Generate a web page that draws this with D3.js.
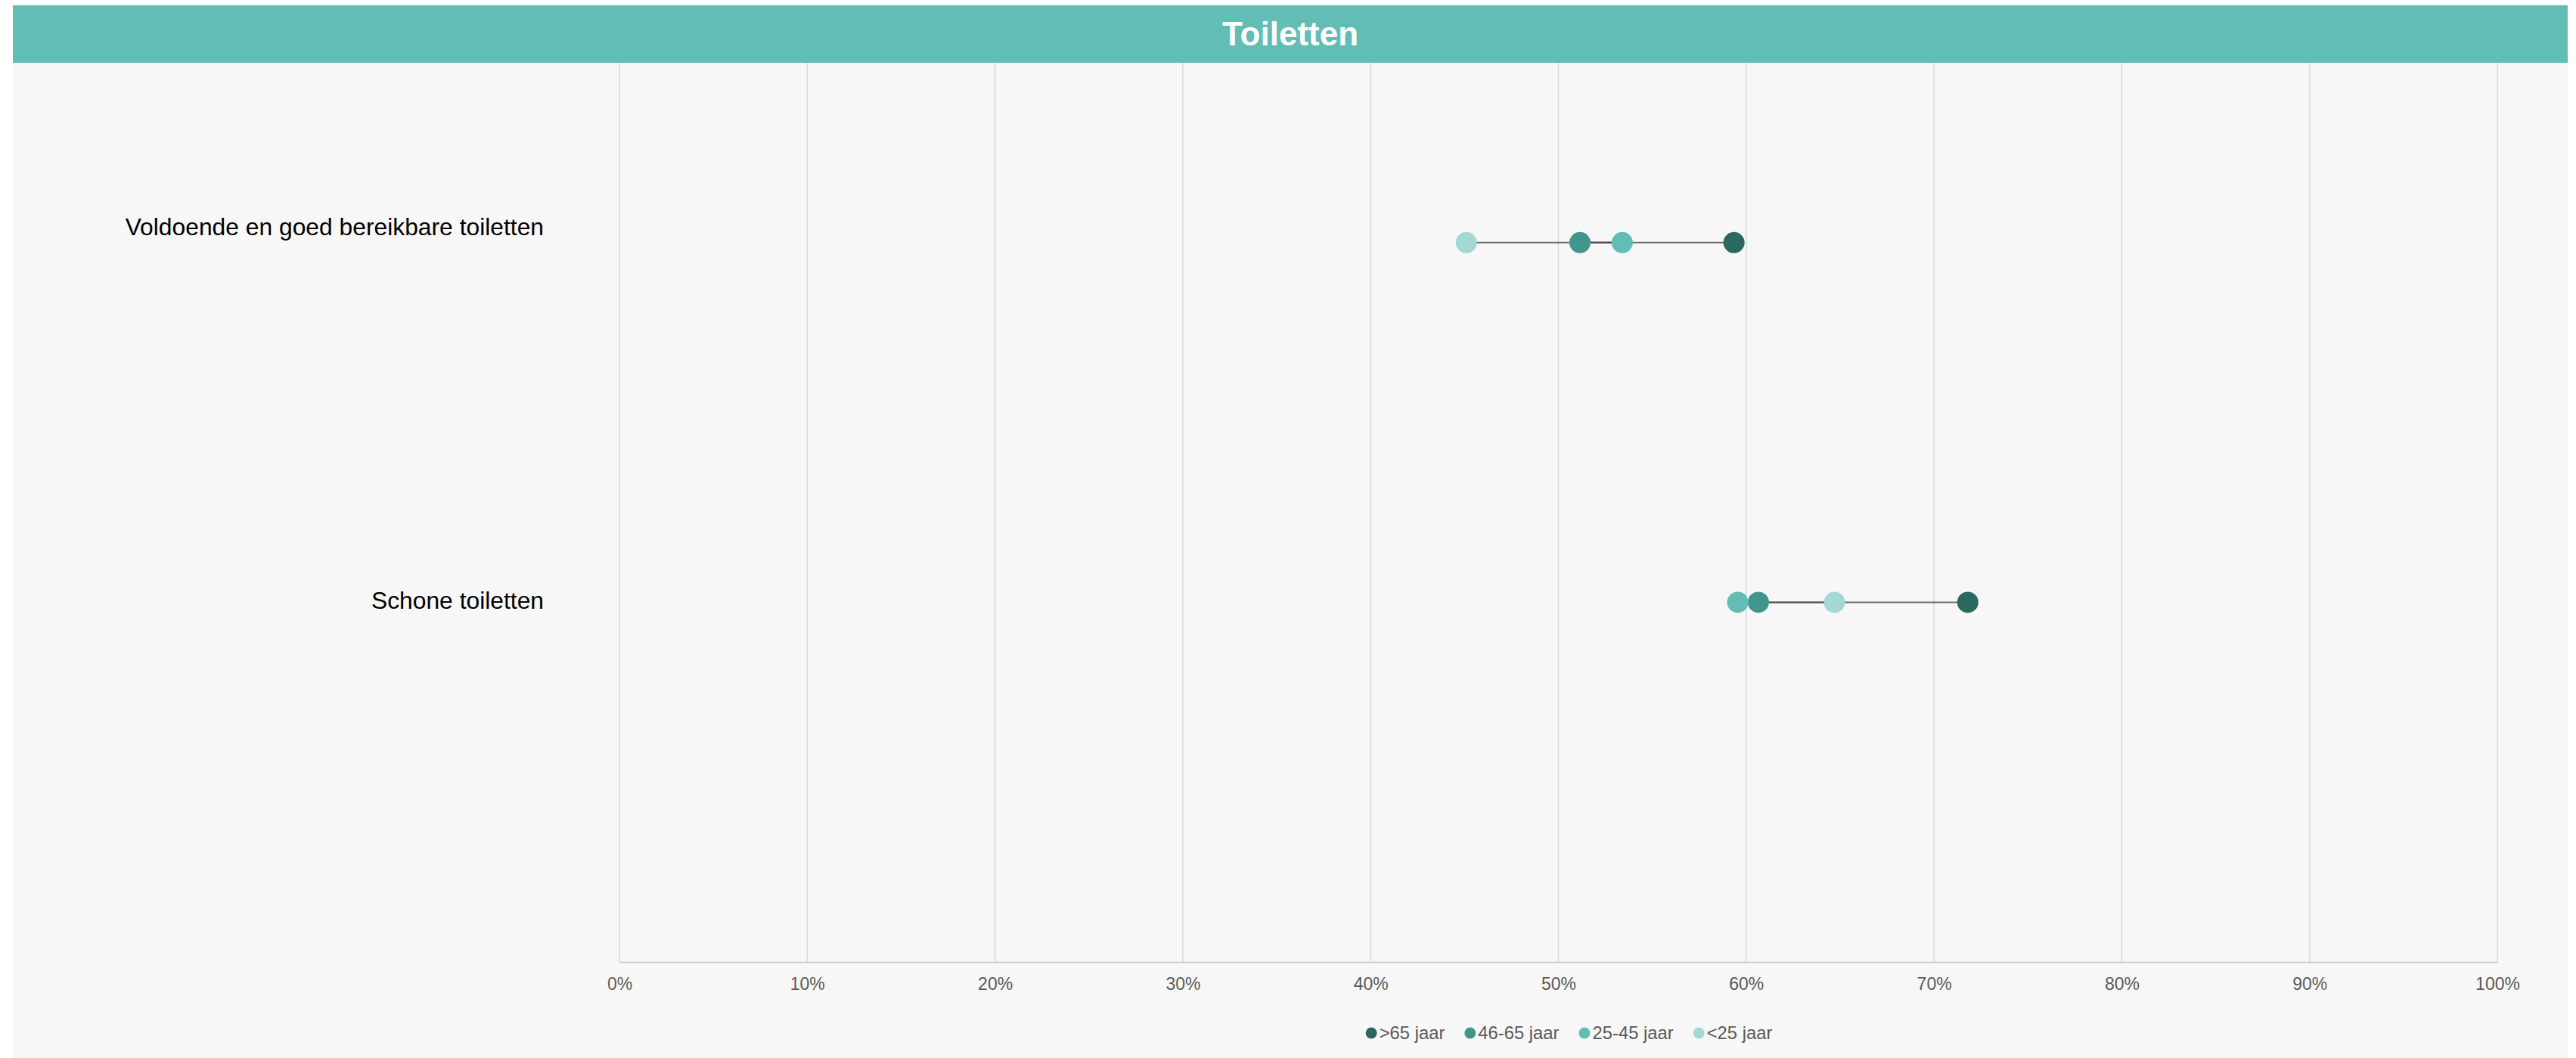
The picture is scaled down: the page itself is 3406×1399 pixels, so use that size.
<!DOCTYPE html>
<html>
<head>
<meta charset="utf-8">
<script src="https://cdn.jsdelivr.net/npm/d3@7"></script>
<style>
  html, body { margin: 0; padding: 0; background: #ffffff; }
  svg { display: block; font-family: "Liberation Sans", Arial, sans-serif; }
</style>
</head>
<body>
<svg id="chart" width="3406" height="1399"></svg>
<script>
// ---- Data ----
const title = "Toiletten";
const categories = ["Voldoende en goed bereikbare toiletten", "Schone toiletten"];
const seriesNames = [">65 jaar", "46-65 jaar", "25-45 jaar", "<25 jaar"];
const seriesColors = ["#2a6860", "#40968c", "#62bdb5", "#a3d8d4"];
// values in % per series, per category (same order as categories)
const valuesOver65 = [59.35, 71.8];
const values46to65 = [51.15, 60.65];
const values25to45 = [53.4, 59.55];
const valuesUnder25 = [45.1, 64.7];
const tickValues = [0, 10, 20, 30, 40, 50, 60, 70, 80, 90, 100];

const seriesValues = [valuesOver65, values46to65, values25to45, valuesUnder25];

// ---- Layout ----
const W = 3406, H = 1399;
const card = { x: 17, y: 7, w: 3378, h: H - 7 };
const titleH = 76;
const plot = { left: 819, right: 3302, top: 83, bottom: 1272 };

const svg = d3.select("#chart");

// card background
svg.append("rect").attr("x", card.x).attr("y", card.y)
  .attr("width", card.w).attr("height", card.h).attr("fill", "#f7f7f7");
// title bar
svg.append("rect").attr("x", card.x).attr("y", card.y)
  .attr("width", card.w).attr("height", titleH).attr("fill", "#62bdb5");
svg.append("text").attr("x", card.x + card.w / 2).attr("y", 60)
  .attr("text-anchor", "middle").attr("fill", "#ffffff")
  .attr("font-weight", "bold").attr("font-size", 44).text(title);

// scales
const x = d3.scaleLinear().domain([0, 100]).range([plot.left, plot.right]);
const y = d3.scaleLinear().domain([0, 2.5]).range([plot.top, plot.bottom]);
const yLabel = d3.scaleLinear().domain([0.06, 2.47]).range([plot.top, plot.bottom]);

// gridlines
svg.append("g").selectAll("line").data(tickValues).join("line")
  .attr("x1", d => x(d)).attr("x2", d => x(d))
  .attr("y1", plot.top).attr("y2", plot.bottom)
  .attr("stroke", "#d9d9d9").attr("stroke-width", 1.5);

// x axis
const xAxis = d3.axisBottom(x).tickValues(tickValues)
  .tickFormat(d => d + "%").tickSize(0).tickPadding(21);
const gx = svg.append("g").attr("transform", `translate(0,${plot.bottom})`).call(xAxis);
gx.select(".domain").attr("stroke", "#c4c4c4").attr("stroke-width", 1.5);
gx.selectAll("text").attr("font-size", 23).attr("fill", "#595959")
  .attr("font-family", "'Liberation Sans', Arial, sans-serif");

// category labels
svg.append("g").selectAll("text").data(categories).join("text")
  .attr("x", 719).attr("y", (d, i) => yLabel(i + 0.5))
  .attr("dy", "0.35em")
  .attr("text-anchor", "end").attr("font-size", 31.8).attr("fill", "#000000")
  .text(d => d);

// connecting lines (series order polyline per category)
const line = d3.line().x(d => x(d[0])).y(d => y(d[1]));
categories.forEach((c, i) => {
  const pts = seriesValues.map(v => [v[i], i + 0.5]);
  for (let k = 0; k < pts.length - 1; k++) {
    svg.append("path").attr("d", line([pts[k], pts[k + 1]]))
      .attr("fill", "none").attr("stroke", "#4a4a4a")
      .attr("stroke-width", 2).attr("stroke-opacity", 0.8);
  }
});

// dots
seriesValues.forEach((vals, s) => {
  svg.append("g").selectAll("circle").data(vals).join("circle")
    .attr("cx", d => x(d)).attr("cy", (d, i) => y(i + 0.5))
    .attr("r", 14).attr("fill", seriesColors[s]);
});

// legend
const legend = svg.append("g");
let lx = 0;
seriesNames.forEach((name, s) => {
  const g = legend.append("g").attr("transform", `translate(${lx},0)`);
  g.append("circle").attr("cx", 7.5).attr("cy", 0).attr("r", 7.5).attr("fill", seriesColors[s]);
  const t = g.append("text").attr("x", 18).attr("y", 8)
    .attr("font-size", 23.8).attr("fill", "#595959").text(name);
  const w = t.node().getComputedTextLength();
  lx += 18 + w + 26;
});
const legendW = lx - 26;
legend.attr("transform", `translate(${2074.5 - legendW / 2},1366)`);
</script>
</body>
</html>
